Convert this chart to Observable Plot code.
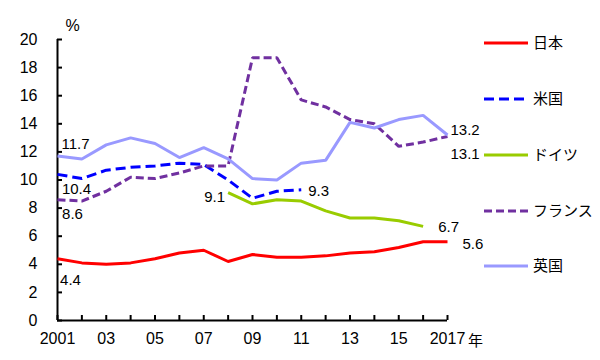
<!DOCTYPE html>
<html><head><meta charset="utf-8">
<script src="https://cdn.jsdelivr.net/npm/d3@7"></script>
<script src="https://cdn.jsdelivr.net/npm/@observablehq/plot@0.6"></script>
<style>
body{margin:0;background:#fff;}
#chart{position:relative;width:600px;height:360px;}
</style>
</head><body><div id="chart"></div>
<script>
const years = [2001,2002,2003,2004,2005,2006,2007,2008,2009,2010,2011,2012,2013,2014,2015,2016,2017];
const japan = [4.4,4.1,4.0,4.1,4.4,4.8,5.0,4.2,4.7,4.5,4.5,4.6,4.8,4.9,5.2,5.6,5.6];
const usaYears = [2001,2002,2003,2004,2005,2006,2007,2008,2009,2010,2011];
const usa = [10.4,10.1,10.7,10.9,11.0,11.2,11.1,10.0,8.7,9.2,9.3];
const germanyYears = [2008,2009,2010,2011,2012,2013,2014,2015,2016];
const germany = [9.1,8.3,8.6,8.5,7.8,7.3,7.3,7.1,6.7];
const france = [8.6,8.5,9.2,10.2,10.1,10.5,11.0,11.0,18.7,18.7,15.7,15.2,14.3,14.0,12.4,12.7,13.1];
const uk = [11.7,11.5,12.5,13.0,12.6,11.6,12.3,11.5,10.1,10.0,11.2,11.4,14.1,13.7,14.3,14.6,13.2];
const seriesNames = ["日本","米国","ドイツ","フランス","英国"];
const yTicks = [0,2,4,6,8,10,12,14,16,18,20];
const xTickLabels = {2001:"2001",2003:"03",2005:"05",2007:"07",2009:"09",2011:"11",2013:"13",2015:"15",2017:"2017"};
const yUnit = "%";
const xUnit = "年";

const colors = ["#ff0000","#0000ff","#99cc00","#7030a0","#9999ff"];
const dashes = [null,"10,5",null,"8,4",null];

const mk = (xs, vs) => xs.map((x,i)=>({x, v: vs[i]}));
const dJ = mk(years, japan), dU = mk(usaYears, usa), dG = mk(germanyYears, germany), dF = mk(years, france), dK = mk(years, uk);
const all = [dJ,dU,dG,dF,dK];
const first = a => [a[0]], last = a => [a[a.length-1]];
const fmt = d => d.v.toFixed(1);
const font = "'Liberation Sans', Arial, 'Noto Sans CJK JP', sans-serif";
const fs = 15;

const plot = Plot.plot({
  width: 600, height: 360,
  marginLeft: 57, marginRight: 153, marginTop: 39, marginBottom: 40,
  style: {fontFamily: font, fontSize: fs+"px", color: "#000", background: "#fff"},
  x: {domain: [2001, 2017]},
  y: {domain: [0, 20]},
  marks: [
    Plot.axisY(yTicks, {tickSize: -5, tickPadding: 25, strokeWidth: 2, label: null, fontSize: 16}),
    Plot.axisX(years, {tickSize: -5, tickPadding: 17, strokeWidth: 2, label: null, fontSize: 16, tickFormat: d => xTickLabels[d] ?? ""}),
    Plot.ruleX([2001], {stroke: "#000", strokeWidth: 2}),
    Plot.ruleY([0], {stroke: "#000", strokeWidth: 2}),
    ...all.map((d,i) => Plot.line(d, {x: "x", y: "v", stroke: colors[i], strokeWidth: 3, strokeDasharray: dashes[i], strokeLinejoin: "miter", strokeLinecap: "butt"})),
    Plot.text(first(dK), {x: "x", y: "v", text: fmt, dx: 18, dy: -12, fontSize: fs}),
    Plot.text(first(dU), {x: "x", y: "v", text: fmt, dx: 19, dy: 15, fontSize: fs}),
    Plot.text(first(dF), {x: "x", y: "v", text: fmt, dx: 15, dy: 15, fontSize: fs}),
    Plot.text(first(dJ), {x: "x", y: "v", text: fmt, dx: 13, dy: 22, fontSize: fs}),
    Plot.text(first(dG), {x: "x", y: "v", text: fmt, dx: -3, dy: 5, textAnchor: "end", fontSize: fs}),
    Plot.text(last(dU), {x: "x", y: "v", text: fmt, dx: 7, dy: 1, textAnchor: "start", fontSize: fs}),
    Plot.text(last(dG), {x: "x", y: "v", text: fmt, dx: 15, dy: 1, textAnchor: "start", fontSize: fs}),
    Plot.text(last(dJ), {x: "x", y: "v", text: fmt, dx: 15, dy: 2, textAnchor: "start", fontSize: fs}),
    Plot.text(last(dK), {x: "x", y: "v", text: fmt, dx: 3, dy: -5, textAnchor: "start", fontSize: fs}),
    Plot.text(last(dF), {x: "x", y: "v", text: fmt, dx: 3, dy: 18, textAnchor: "start", fontSize: fs}),
    Plot.text([yUnit], {x: 2001, y: 20, text: d => d, dx: 15, dy: -14, fontSize: 16}),
    Plot.text([xUnit], {x: 2017, y: 0, text: d => d, dx: 28, dy: 21, fontSize: fs})
  ]
});
document.getElementById("chart").appendChild(plot);

// legend
const svg = d3.select(plot);
const lg = svg.append("g").attr("font-family", font).attr("font-size", fs).attr("text-anchor", "start").attr("fill", "#000");
const legY = [43, 99, 155, 211, 266];
seriesNames.forEach((n,i) => {
  lg.append("line").attr("x1", 484).attr("x2", 528).attr("y1", legY[i]).attr("y2", legY[i])
    .attr("stroke", colors[i]).attr("stroke-width", 3).attr("stroke-dasharray", dashes[i]);
  lg.append("text").attr("x", 533).attr("y", legY[i]).attr("dy", "0.35em").attr("text-anchor", "start").text(n);
});
</script></body></html>
